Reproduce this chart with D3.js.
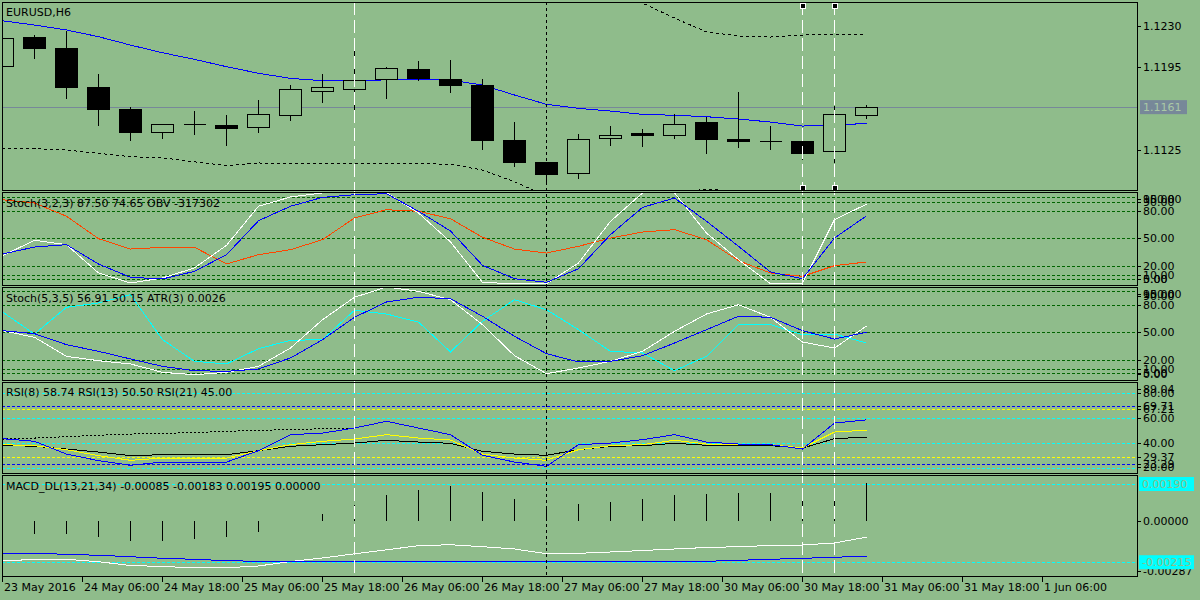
<!DOCTYPE html>
<html>
<head>
<meta charset="utf-8">
<script src="https://cdn.jsdelivr.net/npm/d3@7.9.0/dist/d3.min.js"></script>
<style>
  body { margin: 0; background: #8fbc8b; }
  svg { display: block; font-family: "DejaVu Sans", sans-serif; font-size: 11px; }
</style>
</head>
<body>
<svg id="chart" width="1200" height="600"></svg>
<script>
// ---- data (one entry per H6 bar) ----
const opens  = [1.11956, 1.12204, 1.12108, 1.11778, 1.11594, 1.11397, 1.11465, 1.11458, 1.11444, 1.11541, 1.11744, 1.11766, 1.11846, 1.11933, 1.11846, 1.11797, 1.11331, 1.11142, 1.11054, 1.11346, 1.11388, 1.11376, 1.11484, 1.11340, 1.11320, 1.11323, 1.11236, 1.11541];
const highs  = [1.12200, 1.12221, 1.12258, 1.11891, 1.11608, 1.11464, 1.11577, 1.11543, 1.11670, 1.11797, 1.11891, 1.12170, 1.11950, 1.12001, 1.12009, 1.11848, 1.11484, 1.11142, 1.11382, 1.11450, 1.11422, 1.11549, 1.11524, 1.11738, 1.11450, 1.11374, 1.11620, 1.11628];
const lows   = [1.11956, 1.12018, 1.11681, 1.11453, 1.11325, 1.11342, 1.11376, 1.11283, 1.11393, 1.11495, 1.11647, 1.11588, 1.11679, 1.11831, 1.11732, 1.11249, 1.11105, 1.10956, 1.11003, 1.11283, 1.11275, 1.11342, 1.11215, 1.11266, 1.11249, 1.11162, 1.11134, 1.11509];
const closes = [1.12193, 1.12114, 1.11783, 1.11597, 1.11402, 1.11464, 1.11464, 1.11436, 1.11549, 1.11761, 1.11778, 1.11837, 1.11939, 1.11854, 1.11800, 1.11334, 1.11147, 1.11046, 1.11337, 1.11371, 1.11376, 1.11464, 1.11342, 1.11325, 1.11321, 1.11224, 1.11549, 1.11608];

const maLine    = [1.12342, 1.12306, 1.12264, 1.12207, 1.12136, 1.12071, 1.12015, 1.11953, 1.11897, 1.11854, 1.11834, 1.11831, 1.11842, 1.11846, 1.11840, 1.11797, 1.11713, 1.11634, 1.11600, 1.11577, 1.11549, 1.11541, 1.11529, 1.11509, 1.11484, 1.11450, 1.11456, 1.11473];
const upperBand = [null, null, null, null, null, null, null, null, null, null, null, null, null, null, null, null, null, null, null, 1.12586, 1.12492, 1.12365, 1.12247, 1.12213, 1.12204, 1.12221, 1.12225, 1.12227];
const lowerBand = [1.11261, 1.11258, 1.11247, 1.11219, 1.11190, 1.11181, 1.11147, 1.11114, 1.11137, 1.11131, 1.11131, 1.11134, 1.11134, 1.11131, 1.11126, 1.11077, 1.10978, 1.10857, 1.10823, 1.10848, 1.10860, 1.10880, 1.10916, 1.10895, 1.10865, 1.10848, 1.10840, 1.10840];

const priceTicks = [1.1230, 1.1195, 1.1125];
const lastPrice = 1.1161;

const stoch1Main   = [30.9, 47.8, 43, 11.9, 0.9, 6.4, 17.4, 42.3, 85.2, 95.4, 99.8, 99.8, 100, 77.8, 46, 1.6, 0, 0, 22.9, 68.7, 99.8, 100, 55.8, 26.5, 0, 0.5, 70.5, 87.5];
const stoch1Signal = [32.7, 40.4, 43, 21.8, 7.1, 5.3, 13.7, 32, 69.3, 85.2, 95, 97.9, 99, 79.7, 58, 20.3, 5.6, 1.6, 16.6, 54, 84, 94.3, 68.7, 41.2, 13, 5.6, 50.3, 74.65];
const obvLine      = [92.4, 88.8, 74.2, 49.6, 38.2, 40.1, 40.1, 21.8, 32, 37.5, 48.5, 72.3, 81.4, 79.7, 71.5, 51.1, 38.2, 33.8, 41.2, 50.3, 56.9, 59.5, 48.5, 25.4, 11.9, 8.2, 19.9, 24];

const stoch2Main   = [51.8, 44.5, 23.6, 18.8, 15.2, 6, 3.4, 6, 12.6, 32.7, 63.8, 88.5, 99.8, 95, 85.8, 58.4, 24.3, 4.5, 10.8, 18.1, 29.1, 51.1, 70.1, 80.3, 66.5, 39.3, 32.7, 56.91];
const stoch2Signal = [51.8, 48.5, 36.4, 29.1, 20.7, 12.6, 7.8, 7.1, 9.7, 21.8, 41.9, 66.5, 83.3, 88.5, 86.9, 67.6, 45.6, 26.5, 17.4, 18.1, 24.3, 38.2, 52.9, 67.6, 66.5, 51.8, 42.6, 50.15];
const atrLine      = [72.3, 48.1, 77.5, 82.2, 91.3, 41.9, 18.1, 15.2, 32, 41.2, 41.9, 74.2, 70.1, 61.3, 28.4, 62.1, 85.8, 74.8, 52.9, 29.1, 27.3, 7.8, 23.6, 58.4, 58.4, 47.4, 48.1, 38.2];

const stochTicks   = [100, 95, 90, 80, 50, 20, 10, 5, 0];
const stoch1Levels = [95, 90, 80, 50, 20, 10, 5];
const stoch2Levels = [95, 80, 50, 20, 10, 5];

const rsi8   = [43.7, 41.6, 31.4, 26.1, 22.4, 25, 25, 25, 34.1, 46.9, 48.2, 52.2, 57.6, 52.2, 46.9, 30.4, 25, 21.6, 38.9, 40.2, 42.9, 46.9, 41, 39.4, 38.9, 35.4, 56.2, 58.74];
const rsi13  = [38.9, 38.1, 34.9, 30.1, 26.4, 28.2, 28.2, 28.2, 34.1, 38.9, 41.6, 43.4, 46.9, 44.2, 42.6, 31.4, 28.2, 26.4, 34.9, 38.1, 38.9, 42.4, 39.4, 38.9, 38.9, 36.2, 49, 50.5];
const rsi21  = [38.4, 37.6, 35.4, 33, 30.1, 30.9, 30.9, 30.9, 34.1, 37.6, 38.9, 40.2, 42.4, 41, 40, 33.6, 31.4, 30.4, 34.9, 37.6, 38.1, 40, 38.4, 38.1, 38.1, 36.2, 43.7, 45];
const rsiDotted = [43.4, 44.2, 45.3, 46.4, 47.4, 48, 48.5, 49.6, 50.4, 50.9, 51.7, 52.2];
const rsiCyanLevels   = [80, 60, 40, 20];
const rsiBlueLevels   = [69.71, 23.29];
const rsiYellowLevels = [67.21, 29.37];
const rsiTicks = [89.04, 80, 69.71, 67.21, 60, 40, 29.37, 23.29, 20];

const macdHist   = [-0.0006, -0.000673, -0.000673, -0.000844, -0.001035, -0.001035, -0.000932, -0.000844, -0.000585, -0.00003, 0.000347, 0.000828, 0.001315, 0.001574, 0.001812, 0.001486, 0.001123, 0.00075, 0.000865, 0.000968, 0.001123, 0.00133, 0.001382, 0.001434, 0.001434, 0.001382, 0.001641, 0.00195];
const macdMain   = [-0.002086, -0.002, -0.001998, -0.002123, -0.002319, -0.002371, -0.002438, -0.002438, -0.002345, -0.002112, -0.001931, -0.001714, -0.001507, -0.001294, -0.001243, -0.001346, -0.001465, -0.001708, -0.001688, -0.00162, -0.001543, -0.001465, -0.001387, -0.001346, -0.001284, -0.001258, -0.001154, -0.00085];
const macdSignal = [-0.001688, -0.001688, -0.00174, -0.001791, -0.001864, -0.001947, -0.001998, -0.002071, -0.002102, -0.002112, -0.002138, -0.002138, -0.002138, -0.002138, -0.002112, -0.002102, -0.002102, -0.002102, -0.002102, -0.002102, -0.002102, -0.002102, -0.002102, -0.00205, -0.001998, -0.001947, -0.001895, -0.00183];
const macdLevels = [0.0019, -0.00215];
const macdMin = -0.00287;

const timeLabels = ["23 May 2016", "24 May 06:00", "24 May 18:00", "25 May 06:00", "25 May 18:00", "26 May 06:00", "26 May 18:00", "27 May 06:00", "27 May 18:00", "30 May 06:00", "30 May 18:00", "31 May 06:00", "31 May 18:00", "1 Jun 06:00"];
const barsPerLabel = 2.5;

const whiteLineBars = [11, 25, 26];   // vertical white dashed lines
const separatorBar = 17;              // black dotted separator

// ---- layout ----
const BG = "#8fbc8b";
const LEFT = 2, RIGHT = 1137;
const svg = d3.select("#chart");

const x = d3.scaleLinear().domain([0, 1]).range([2.5, 34.5]);

const yPrice = d3.scaleLinear().domain([1.10908, 1.12501]).range([190, 2]);
const ySt1 = d3.scaleLinear().domain([0, 100]).range([283.8, 192.8]);
const ySt2 = d3.scaleLinear().domain([0, 100]).range([377.8, 286.8]);
const yRsi = d3.scaleLinear().domain([16.24, 89.04]).range([473, 382]);
const yMacd = d3.scaleLinear().domain([-0.002863, 0.002418]).range([576, 474]);

const defs = svg.append("defs");
function panel(name, top, bottom) {
  defs.append("clipPath").attr("id", "clip-" + name)
    .append("rect").attr("x", LEFT).attr("y", top).attr("width", RIGHT - LEFT).attr("height", bottom - top);
  return svg.append("g").attr("clip-path", `url(#clip-${name})`);
}

const gPrice = panel("price", 2, 190);
const gSt1 = panel("st1", 192, 285);
const gSt2 = panel("st2", 287, 380);
const gRsi = panel("rsi", 382, 473);
const gMacd = panel("macd", 475, 576);

function levels(g, vals, y, color) {
  g.selectAll(null).data(vals).enter().append("line")
    .attr("x1", LEFT).attr("x2", RIGHT)
    .attr("y1", d => Math.round(y(d)) + 0.5).attr("y2", d => Math.round(y(d)) + 0.5)
    .attr("stroke", color).attr("stroke-dasharray", "3,2")
    .attr("shape-rendering", "crispEdges");
}

function series(g, vals, y, color, dash) {
  const line = d3.line()
    .defined(d => d != null)
    .x((d, i) => x(i))
    .y(d => y(d));
  g.append("path").datum(vals)
    .attr("d", line)
    .attr("fill", "none")
    .attr("stroke", color)
    .attr("stroke-width", 1)
    .attr("stroke-dasharray", dash || null)
    .attr("shape-rendering", "crispEdges");
}

// levels
levels(gSt1, stoch1Levels, ySt1, "#006400");
levels(gSt2, stoch2Levels, ySt2, "#006400");
levels(gRsi, rsiCyanLevels, yRsi, "#00ffff");
levels(gRsi, rsiBlueLevels, yRsi, "#0000ff");
levels(gRsi, rsiYellowLevels, yRsi, "#ffff00");
levels(gMacd, macdLevels, yMacd, "#00ffff");

// current price line
gPrice.append("line")
  .attr("x1", LEFT).attr("x2", RIGHT)
  .attr("y1", Math.round(yPrice(lastPrice)) + 0.5).attr("y2", Math.round(yPrice(lastPrice)) + 0.5)
  .attr("stroke", "#778899").attr("shape-rendering", "crispEdges");

// vertical lines (behind the series)
const vLines = svg.append("g");
whiteLineBars.forEach(i => {
  vLines.append("line")
    .attr("x1", x(i)).attr("x2", x(i)).attr("y1", 2).attr("y2", 576)
    .attr("stroke", "#ffffff").attr("stroke-dasharray", "13,5")
    .attr("shape-rendering", "crispEdges");
});
vLines.append("line")
  .attr("x1", x(separatorBar)).attr("x2", x(separatorBar)).attr("y1", 2).attr("y2", 576)
  .attr("stroke", "#000").attr("stroke-dasharray", "3,3")
  .attr("shape-rendering", "crispEdges");

// price panel: bands, MA, candles
series(gPrice, upperBand, yPrice, "#000", "3,3");
series(gPrice, lowerBand, yPrice, "#000", "3,3");
series(gPrice, maLine, yPrice, "#0000ff");

opens.forEach((o, i) => {
  const c = closes[i];
  const cx = x(i);
  gPrice.append("line")
    .attr("x1", cx).attr("x2", cx)
    .attr("y1", Math.round(yPrice(highs[i]))).attr("y2", Math.round(yPrice(lows[i])))
    .attr("stroke", "#000").attr("shape-rendering", "crispEdges");
  const top = Math.round(yPrice(Math.max(o, c)));
  const bot = Math.round(yPrice(Math.min(o, c)));
  if (bot - top < 1) {
    gPrice.append("line")
      .attr("x1", cx - 11).attr("x2", cx + 11)
      .attr("y1", top + 0.5).attr("y2", top + 0.5)
      .attr("stroke", "#000").attr("shape-rendering", "crispEdges");
  } else {
    gPrice.append("rect")
      .attr("x", cx - 11).attr("y", top + 0.5)
      .attr("width", 22).attr("height", bot - top)
      .attr("fill", c > o ? BG : "#000")
      .attr("stroke", "#000").attr("shape-rendering", "crispEdges");
  }
});

// selection handles on the two white lines
[25, 26].forEach(i => {
  [5.5, 187.5].forEach(yy => {
    svg.append("rect")
      .attr("x", x(i) - 2.5).attr("y", yy - 2.5).attr("width", 5).attr("height", 5)
      .attr("fill", "#000").attr("stroke", "#fff").attr("shape-rendering", "crispEdges");
  });
});

// stochastics
series(gSt1, obvLine, ySt1, "#ff4500");
series(gSt1, stoch1Main, ySt1, "#ffffff");
series(gSt1, stoch1Signal, ySt1, "#0000ff");

series(gSt2, atrLine, ySt2, "#00ffff");
series(gSt2, stoch2Main, ySt2, "#ffffff");
series(gSt2, stoch2Signal, ySt2, "#0000ff");

// RSI
series(gRsi, rsiDotted, yRsi, "#000", "2,2");
series(gRsi, rsi21, yRsi, "#000");
series(gRsi, rsi13, yRsi, "#ffff00");
series(gRsi, rsi8, yRsi, "#0000ff");

// MACD
gMacd.selectAll(null).data(macdHist).enter().append("line")
  .attr("x1", (d, i) => x(i)).attr("x2", (d, i) => x(i))
  .attr("y1", Math.round(yMacd(0))).attr("y2", d => Math.round(yMacd(d)))
  .attr("stroke", "#000").attr("stroke-width", 1.6)
  .attr("shape-rendering", "crispEdges");
series(gMacd, macdMain, yMacd, "#ffffff");
series(gMacd, macdSignal, yMacd, "#0000ff");

// panel borders
[[2, 190], [192, 285], [287, 380], [382, 473], [475, 576]].forEach(([t, b]) => {
  svg.append("rect")
    .attr("x", LEFT + 0.5).attr("y", t + 0.5)
    .attr("width", RIGHT - LEFT).attr("height", b - t)
    .attr("fill", "none").attr("stroke", "#000").attr("shape-rendering", "crispEdges");
});

// titles
const titles = [
  ["EURUSD,H6", 16],
  ["Stoch(3,2,3) 87.50 74.65 OBV -317302", 207],
  ["Stoch(5,3,5) 56.91 50.15 ATR(3) 0.0026", 302],
  ["RSI(8) 58.74 RSI(13) 50.50 RSI(21) 45.00", 396],
  ["MACD_DL(13,21,34) -0.00085 -0.00183 0.00195 0.00000", 490]
];
titles.forEach(([t, yy]) => {
  svg.append("text").attr("x", 6).attr("y", yy).attr("fill", "#000").text(t);
});

// right axis labels
function axisLabel(yy, text) {
  svg.append("line").attr("x1", RIGHT).attr("x2", RIGHT + 4)
    .attr("y1", Math.round(yy) + 0.5).attr("y2", Math.round(yy) + 0.5)
    .attr("stroke", "#000").attr("shape-rendering", "crispEdges");
  svg.append("text").attr("x", RIGHT + 6).attr("y", yy).attr("dy", "0.36em")
    .attr("fill", "#000").text(text);
}
priceTicks.forEach(p => axisLabel(yPrice(p), p.toFixed(4)));

const clampY = (v, t, b) => Math.max(t + 7, Math.min(b - 6, v));
stochTicks.forEach(v => axisLabel(clampY(ySt1(v), 192, 285), v.toFixed(2)));
stochTicks.forEach(v => axisLabel(clampY(ySt2(v), 287, 380), v.toFixed(2)));
rsiTicks.forEach(v => axisLabel(clampY(yRsi(v), 382, 473), v.toFixed(2)));
axisLabel(yMacd(0), (0).toFixed(5));
axisLabel(clampY(yMacd(macdMin), 475, 576) + 1, macdMin.toFixed(5));

// price box for current price
svg.append("rect").attr("x", 1140).attr("y", yPrice(lastPrice) - 7).attr("width", 47).attr("height", 14)
  .attr("fill", "#778899");
svg.append("text").attr("x", 1143).attr("y", yPrice(lastPrice)).attr("dy", "0.36em")
  .attr("fill", "#aac8a6").text(lastPrice.toFixed(4));

// MACD level boxes
macdLevels.forEach(v => {
  svg.append("rect").attr("x", 1139).attr("y", yMacd(v) - 7).attr("width", 55).attr("height", 14)
    .attr("fill", "#00ffff");
  svg.append("text").attr("x", 1142).attr("y", yMacd(v)).attr("dy", "0.36em")
    .attr("fill", "#8fbc8b").text(v.toFixed(5));
});

// time axis
timeLabels.forEach((t, k) => {
  const xx = x(k * barsPerLabel);
  svg.append("line").attr("x1", xx).attr("x2", xx).attr("y1", 576).attr("y2", 582)
    .attr("stroke", "#000").attr("shape-rendering", "crispEdges");
  svg.append("text").attr("x", xx + 1.5).attr("y", 591).attr("fill", "#000").text(t);
});
</script>
</body>
</html>
